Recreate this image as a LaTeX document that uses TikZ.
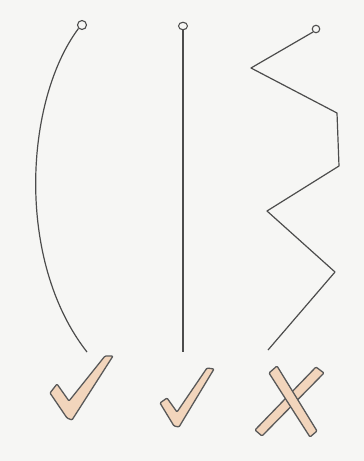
\documentclass[tikz,border=0pt]{standalone}
\definecolor{peach}{RGB}{242,213,188}
\definecolor{paper}{RGB}{246,246,244}
\begin{document}
\begin{tikzpicture}[x=1pt,y=-1pt,
  ink/.style={draw=black!70,line width=1.2pt,line join=round},
  ring/.style={circle,draw=black!70,line width=1.1pt,inner sep=0pt},
  sign/.style={draw=black!65,fill=peach,line width=1.3pt,line join=round,rounded corners=1pt}]
\fill[paper] (0,0) rectangle (364,461);
\useasboundingbox (0,0) rectangle (364,461);
% left: curved line
\node[ring,minimum size=9pt] (c1) at (82,25) {};
\coordinate (e1) at (87,352);
\draw[ink] (c1.south west) .. controls (25,100) and (15,260) .. (e1);
% middle: straight line
\node[ring,minimum size=7.5pt,xscale=1.2] (c2) at (183,26) {};
\coordinate (e2) at (183,352);
\draw[ink] (c2.south) -- (e2);
% right: zigzag
\node[ring,minimum size=7.5pt] (c3) at (316,29) {};
\coordinate (z1) at (251,68);
\coordinate (z2) at (337,113);
\coordinate (z3) at (339,166);
\coordinate (z4) at (267,211);
\coordinate (z5) at (335,272);
\coordinate (e3) at (268,350);
\draw[ink] (c3.south west) -- (z1) -- (z2) -- (z3) -- (z4) -- (z5) -- (e3);
% ticks and cross
\draw[sign] (50,393) -- (57,384) -- (69,401) -- (105,356) -- (113,356) -- (72,420) -- (67,418) -- cycle;
\draw[sign] (160,403) -- (167,398) -- (177,412) -- (207,368) -- (214,369) -- (179,427) -- (174,426) -- cycle;
\draw[sign] (316,367) -- (324,373) -- (262,436) -- (255,430) -- cycle;
\draw[sign] (269,373) -- (277,366) -- (317,431) -- (310,437) -- cycle;
\end{tikzpicture}
\end{document}
